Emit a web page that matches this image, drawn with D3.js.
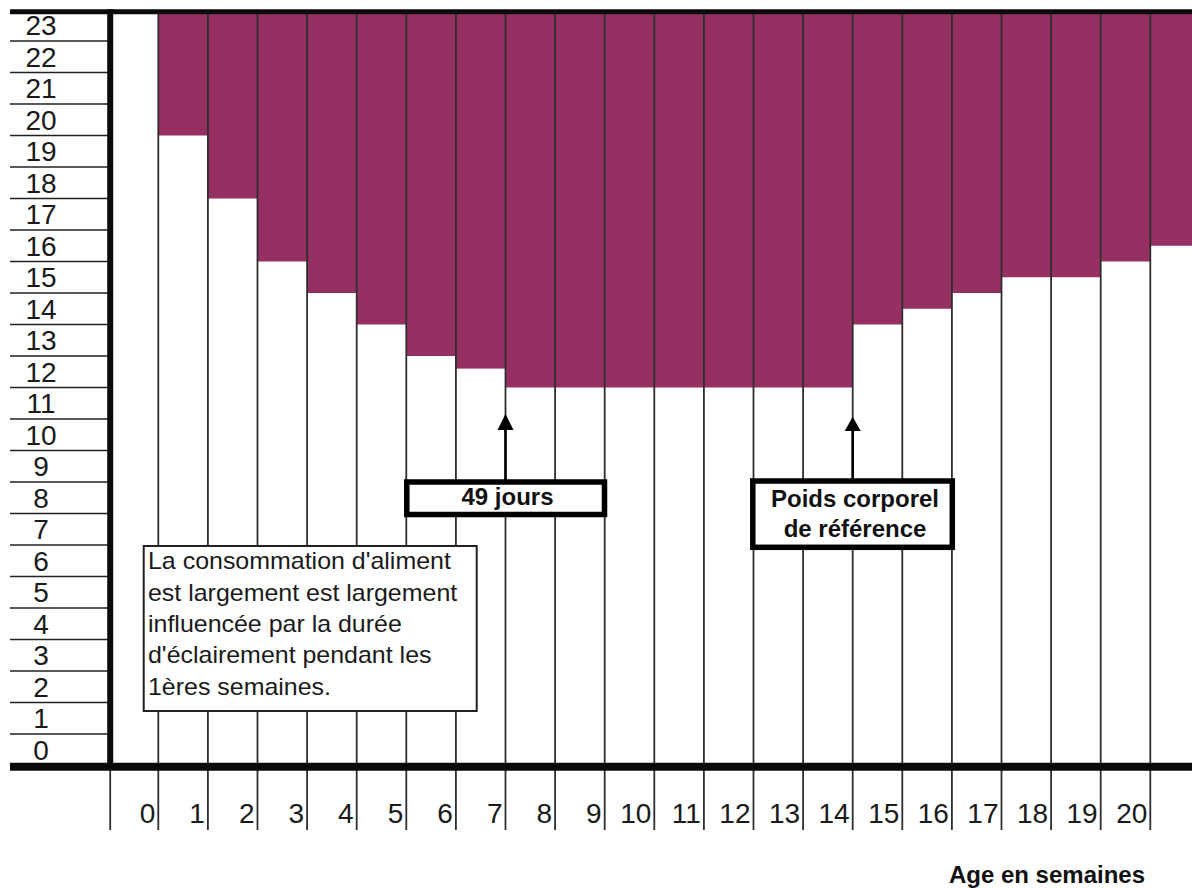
<!DOCTYPE html>
<html>
<head>
<meta charset="utf-8">
<script src="https://cdn.jsdelivr.net/npm/d3@7/dist/d3.min.js"></script>
<style>
  html, body { margin: 0; padding: 0; background: #fff; }
  svg { display: block; font-family: "Liberation Sans", Arial, sans-serif; }
</style>
</head>
<body>
<svg id="chart" width="1192" height="888"></svg>
<script>
// ---- data ----
const weeks = [0,1,2,3,4,5,6,7,8,9,10,11,12,13,14,15,16,17,18,19,20,21];
const lightHours = [24,20,18,16,15,14,13,12.6,12,12,12,12,12,12,12,14,14.5,15,15.5,15.5,16,16.5];
const xTickLabels = ["0","1","2","3","4","5","6","7","8","9","10","11","12","13","14","15","16","17","18","19","20"];
const yTickLabels = ["0","1","2","3","4","5","6","7","8","9","10","11","12","13","14","15","16","17","18","19","20","21","22","23"];
const noteLines = ["La consommation d'aliment","est largement est largement","influencée par la durée","d'éclairement pendant les","1ères semaines."];
const label49 = ["49 jours"];
const labelPoids = ["Poids corporel","de référence"];
const xTitle = "Age en semaines";

// ---- layout ----
const W = 1192, H = 888;
const purple = "#963062";
const svg = d3.select("#chart");

const x = d3.scaleLinear().domain([0, 22]).range([108.7, 108.7 + 22 * 49.6]);
const y = d3.scaleLinear().domain([0, 24]).range([765.5, 9.5]);

const leftEdge = 10;
const axisY = 766.7;
const topY = 11.7;
const tickBottom = 830;

// purple (dark) part of each week column
svg.append("g").selectAll("rect").data(weeks).join("rect")
  .attr("x", d => x(d))
  .attr("width", d => x(d + 1) - x(d))
  .attr("y", topY)
  .attr("height", (d, i) => Math.max(0, y(lightHours[i]) - topY))
  .attr("fill", purple);

// left horizontal band lines
svg.append("g").selectAll("line").data(d3.range(1, 24)).join("line")
  .attr("x1", leftEdge).attr("x2", x(0))
  .attr("y1", d => y(d)).attr("y2", d => y(d))
  .attr("stroke", "#222").attr("stroke-width", 1.6);

// vertical week lines
svg.append("g").selectAll("line").data(d3.range(1, 22)).join("line")
  .attr("x1", d => x(d)).attr("x2", d => x(d))
  .attr("y1", topY).attr("y2", tickBottom)
  .attr("stroke", "#2e2e2e").attr("stroke-width", 1.8);

// y axis thin continuation below axis
svg.append("line")
  .attr("x1", x(0) + 1.5).attr("x2", x(0) + 1.5)
  .attr("y1", axisY).attr("y2", tickBottom)
  .attr("stroke", "#2e2e2e").attr("stroke-width", 1.8);

// thick frame lines
svg.append("line")
  .attr("x1", leftEdge).attr("x2", W).attr("y1", topY).attr("y2", topY)
  .attr("stroke", "#0a0a0a").attr("stroke-width", 5);
svg.append("line")
  .attr("x1", leftEdge).attr("x2", W).attr("y1", axisY).attr("y2", axisY)
  .attr("stroke", "#0a0a0a").attr("stroke-width", 8);
svg.append("line")
  .attr("x1", x(0) + 1.5).attr("x2", x(0) + 1.5).attr("y1", topY - 2.5).attr("y2", axisY)
  .attr("stroke", "#0a0a0a").attr("stroke-width", 6);

// y labels (centered in bands)
svg.append("g").selectAll("text").data(yTickLabels).join("text")
  .attr("x", 41)
  .attr("y", (d, i) => y(i + 0.5) + 10)
  .attr("text-anchor", "middle")
  .attr("font-size", 28)
  .attr("fill", "#1a1a1a")
  .text(d => d);

// x labels (right aligned before next line)
svg.append("g").selectAll("text").data(xTickLabels).join("text")
  .attr("x", (d, i) => x(i + 1) - 3)
  .attr("y", 823)
  .attr("text-anchor", "end")
  .attr("font-size", 28)
  .attr("fill", "#1a1a1a")
  .text(d => d);

// x title
svg.append("text")
  .attr("x", 1145).attr("y", 883)
  .attr("text-anchor", "end")
  .attr("font-size", 24).attr("font-weight", "bold")
  .attr("fill", "#111")
  .text(xTitle);

// note box
svg.append("rect")
  .attr("x", 143.7).attr("y", 546).attr("width", 333).attr("height", 165)
  .attr("fill", "#fff").attr("stroke", "#222").attr("stroke-width", 2);
svg.append("g").attr("transform", "translate(148,0) scale(1.04,1)")
  .selectAll("text").data(noteLines).join("text")
  .attr("x", 0)
  .attr("y", (d, i) => 569.3 + i * 31.4)
  .attr("font-size", 24)
  .attr("fill", "#1a1a1a")
  .text(d => d);

// arrows
function arrow(xp, tipY, baseY, endY) {
  svg.append("line")
    .attr("x1", xp).attr("x2", xp).attr("y1", baseY - 1).attr("y2", endY)
    .attr("stroke", "#000").attr("stroke-width", 2.6);
  svg.append("path")
    .attr("d", `M${xp},${tipY} L${xp - 8},${baseY} L${xp + 8},${baseY} Z`)
    .attr("fill", "#000");
}
arrow(x(8), 414, 430, 481);
arrow(x(15), 416.7, 431, 481);

// 49 jours box
svg.append("rect")
  .attr("x", 406.8).attr("y", 482).attr("width", 197.7).attr("height", 32.5)
  .attr("fill", "#fff").attr("stroke", "#000").attr("stroke-width", 5.5);
svg.append("g").selectAll("text").data(label49).join("text")
  .attr("x", 507.5).attr("y", 505)
  .attr("text-anchor", "middle")
  .attr("font-size", 24).attr("font-weight", "bold").attr("fill", "#111")
  .text(d => d);

// Poids box
svg.append("rect")
  .attr("x", 752.8).attr("y", 481).attr("width", 199.5).attr("height", 66.3)
  .attr("fill", "#fff").attr("stroke", "#000").attr("stroke-width", 5.5);
svg.append("g").selectAll("text").data(labelPoids).join("text")
  .attr("x", 855).attr("y", (d, i) => 506.7 + i * 30)
  .attr("text-anchor", "middle")
  .attr("font-size", 24).attr("font-weight", "bold").attr("fill", "#111")
  .text(d => d);
</script>
</body>
</html>
